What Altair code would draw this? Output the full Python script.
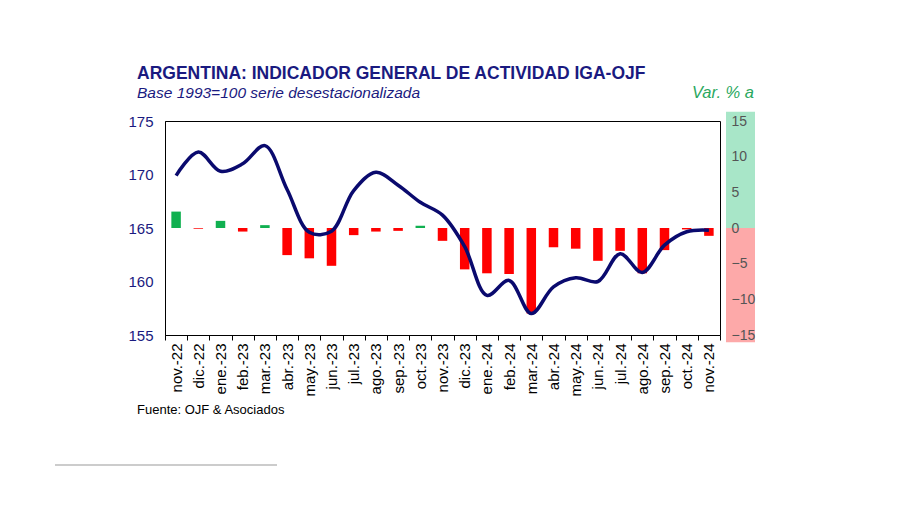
import altair as alt
import pandas as pd

months = ["nov.-22", "dic.-22", "ene.-23", "feb.-23", "mar.-23", "abr.-23", "may.-23",
          "jun.-23", "jul.-23", "ago.-23", "sep.-23", "oct.-23", "nov.-23", "dic.-23",
          "ene.-24", "feb.-24", "mar.-24", "abr.-24", "may.-24", "jun.-24", "jul.-24",
          "ago.-24", "sep.-24", "oct.-24", "nov.-24"]
index_values = [169.9, 172.1, 170.3, 171.0, 172.7, 168.6, 164.6, 164.7, 168.5, 170.2,
                169.0, 167.4, 166.2, 163.25, 158.7, 160.1, 157.0, 159.5, 160.35, 160.0,
                162.6, 160.85, 163.4, 164.65, 164.8]
yoy_values = [2.3, -0.1, 1.0, -0.5, 0.4, -3.8, -4.25, -5.3, -1.0, -0.5, -0.4, 0.3, -1.8,
              -5.8, -6.35, -6.45, -12.0, -2.7, -2.9, -4.6, -3.2, -6.35, -3.1, -0.2, -1.1]

left_ticks = [155, 160, 165, 170, 175]
right_ticks = [-15, -10, -5, 0, 5, 10, 15]
strip_low = [0, -16.0]
strip_high = [16.3, 0]
strip_colors = ["#a8e6c8", "#fda9a9"]

title_text = "ARGENTINA: INDICADOR GENERAL DE ACTIVIDAD IGA-OJF"
subtitle_text = "Base 1993=100 serie desestacionalizada"
right_title = "Var. % a"
source_text = "Fuente: OJF & Asociados"

NAVY = "#1a1a80"
FONT = "Liberation Sans"

df = pd.DataFrame({"mes": months, "iga": index_values, "var": yoy_values})
df["signo"] = ["pos" if v > 0 else "neg" for v in yoy_values]
strip_df = pd.DataFrame({"lo": strip_low, "hi": strip_high, "c": strip_colors})

x_enc = alt.X("mes:N", sort=months, title=None,
              scale=alt.Scale(paddingInner=0, paddingOuter=0),
              axis=alt.Axis(labelAngle=-90, tickBand="extent", tickSize=5, tickColor="#000",
                            domainColor="#000", labelColor="#000", labelFontSize=15,
                            labelFont=FONT, labelPadding=3))

right_scale = alt.Scale(domain=[-15, 15], nice=False, zero=False)
right_axis = alt.Axis(orient="right", values=right_ticks, offset=6, domain=False,
                      ticks=False, grid=False, labelPadding=5, labelColor="#555555",
                      labelFontSize=14, labelFont=FONT, title=None, zindex=2)

strip = alt.Chart(strip_df).mark_rect().encode(
    x=alt.value(561), x2=alt.value(590),
    y=alt.Y("hi:Q", scale=right_scale, axis=right_axis),
    y2="lo:Q",
    color=alt.Color("c:N", scale=None),
)

bars = alt.Chart(df).mark_bar(size=9.5).encode(
    x=x_enc,
    y=alt.Y("var:Q", scale=right_scale, axis=right_axis),
    y2=alt.datum(0),
    color=alt.Color("signo:N", scale=alt.Scale(domain=["pos", "neg"], range=["#10b050", "#ff0000"]),
                    legend=None),
)

right_layer = alt.layer(strip, bars)

line = alt.Chart(df).mark_line(color="#0a0a6e", strokeWidth=3.5, interpolate="catmull-rom").encode(
    x=x_enc,
    y=alt.Y("iga:Q", scale=alt.Scale(domain=[155, 175], nice=False, zero=False),
            axis=alt.Axis(orient="left", values=left_ticks, ticks=False, grid=False,
                          domainColor="#000", labelPadding=12, labelColor=NAVY,
                          labelFontSize=15, labelFont=FONT, title=None)),
)

def txt(text, x, y, size, color, weight="normal", style="normal", align="left"):
    return alt.Chart(pd.DataFrame({"t": [text]})).mark_text(
        align=align, baseline="alphabetic", fontSize=size, color=color, font=FONT,
        fontWeight=weight, fontStyle=style,
    ).encode(text="t:N", x=alt.value(x), y=alt.value(y))

texts = alt.layer(
    txt(title_text, -28, -42, 17.5, NAVY, weight="bold"),
    txt(subtitle_text, -28, -23, 15.5, NAVY, style="italic"),
    txt(right_title, 589, -23, 16.5, "#2aa860", style="italic", align="right"),
    txt(source_text, -28, 293, 13, "#000"),
)

deco = alt.Chart(pd.DataFrame({"a": [0]})).mark_rule(color="#999999", strokeWidth=1.2).encode(
    x=alt.value(-110), x2=alt.value(112), y=alt.value(344)
)

chart = alt.layer(right_layer, line, texts, deco).resolve_scale(y="independent").properties(
    width=555, height=214,
    padding={"left": 165, "top": 121, "right": 180, "bottom": 170},
    autosize=alt.AutoSizeParams(type="none"),
    background="white",
).configure_view(stroke="#000", strokeWidth=1)

chart.save("out.html", embed_options={"renderer": "svg", "actions": False})
